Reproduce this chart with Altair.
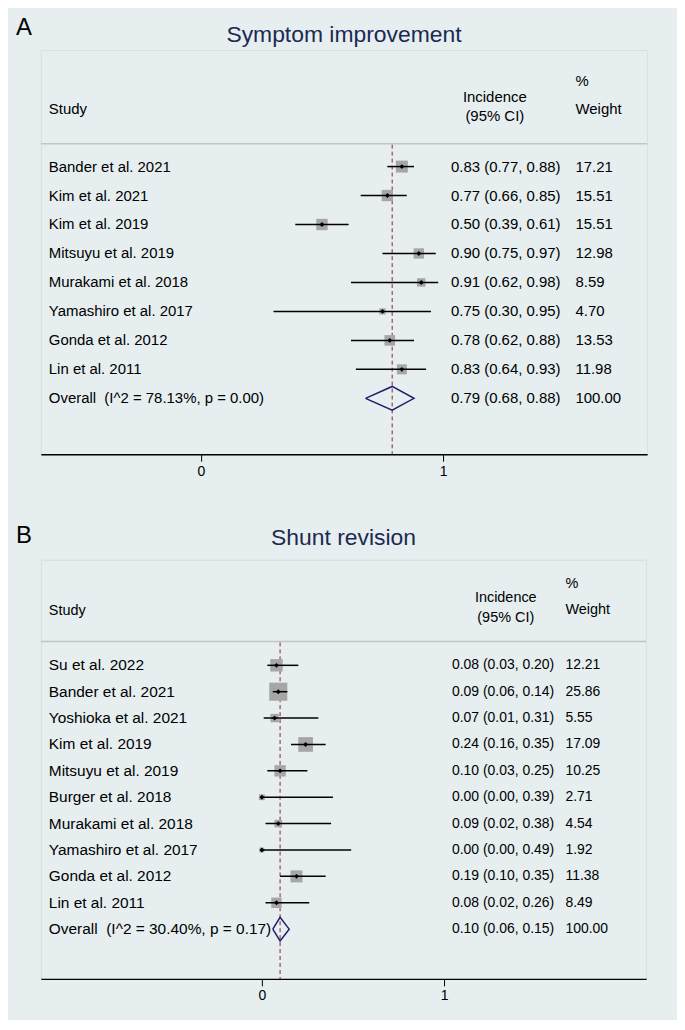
import altair as alt
import pandas as pd

FONT = "Liberation Sans"
BG = "#e6eef0"
NAVY = "#1a2a50"
DIAMOND = "#1c1f6e"
DASH = "#8e2335"
BOX = "#a6a6a6"

# ---------------- Panel A: Symptom improvement ----------------
a_study = ["Bander et al. 2021", "Kim et al. 2021", "Kim et al. 2019", "Mitsuyu et al. 2019",
           "Murakami et al. 2018", "Yamashiro et al. 2017", "Gonda et al. 2012", "Lin et al. 2011"]
a_es = [0.83, 0.77, 0.50, 0.90, 0.91, 0.75, 0.78, 0.83]
a_lo = [0.77, 0.66, 0.39, 0.75, 0.62, 0.30, 0.62, 0.64]
a_hi = [0.88, 0.85, 0.61, 0.97, 0.98, 0.95, 0.88, 0.93]
a_wt = [17.21, 15.51, 15.51, 12.98, 8.59, 4.70, 13.53, 11.98]
a_overall = [0.79, 0.68, 0.88]
a_het = "I^2 = 78.13%, p = 0.00"

# ---------------- Panel B: Shunt revision ----------------
b_study = ["Su et al. 2022", "Bander et al. 2021", "Yoshioka et al. 2021", "Kim et al. 2019",
           "Mitsuyu et al. 2019", "Burger et al. 2018", "Murakami et al. 2018",
           "Yamashiro et al. 2017", "Gonda et al. 2012", "Lin et al. 2011"]
b_es = [0.08, 0.09, 0.07, 0.24, 0.10, 0.00, 0.09, 0.00, 0.19, 0.08]
b_lo = [0.03, 0.06, 0.01, 0.16, 0.03, 0.00, 0.02, 0.00, 0.10, 0.02]
b_hi = [0.20, 0.14, 0.31, 0.35, 0.25, 0.39, 0.38, 0.49, 0.35, 0.26]
b_wt = [12.21, 25.86, 5.55, 17.09, 10.25, 2.71, 4.54, 1.92, 11.38, 8.49]
b_overall = [0.10, 0.06, 0.15]
b_het = "I^2 = 30.40%, p = 0.17"


def panel(letter, title, study, es, lo, hi, wt, ov, het, L):
    W, H = L["W"], L["H"]
    fs, fsl, fsh = L["fs"], L["fsl"], L["fsh"]
    n = len(study)
    df = pd.DataFrame({"study": study, "es": es, "lo": lo, "hi": hi, "wt": wt,
                       "row": list(range(n))})
    lab = pd.DataFrame({
        "study": study + ["Overall\u00a0 (" + het + ")"],
        "ci": [f"{e:.2f} ({l:.2f}, {h:.2f})" for e, l, h in zip(es, lo, hi)]
              + [f"{ov[0]:.2f} ({ov[1]:.2f}, {ov[2]:.2f})"],
        "wtxt": [f"{w:.2f}" for w in wt] + ["100.00"],
        "row": list(range(n + 1)),
    })
    hh = L["dh"]
    dia = pd.DataFrame({"x": [ov[1], ov[0], ov[2], ov[0], ov[1]],
                        "y": [n, n - hh, n, n + hh, n],
                        "o": [0, 1, 2, 3, 4]})
    ovdf = pd.DataFrame({"es": [ov[0]]})
    one = pd.DataFrame({"k": [0]})

    xs = alt.Scale(domain=L["xdom"], nice=False, zero=False)
    ys = alt.Scale(domain=L["ydom"], nice=False, zero=False, reverse=True)
    ax = alt.Axis(values=[0, 1], format="d", title=None, grid=False, domainColor="black",
                  domainWidth=1.3, tickColor="black", tickSize=7, tickWidth=1,
                  labelFontSize=14, labelColor="black", labelFont=FONT, labelPadding=3)

    def txt(t, x, y, align="left", size=fsh, color="black"):
        return alt.Chart(one).mark_text(text=t, align=align, baseline="middle", fontSize=size,
                                        font=FONT, color=color).encode(
            x=alt.value(x), y=alt.value(y))

    hdr = L["hdr"]
    layers = [
        alt.Chart(one).mark_rule(color="#c4c4c4", strokeWidth=1.5).encode(
            x=alt.value(0), x2=alt.value(W), y=alt.value(hdr["line"])),
        alt.Chart(ovdf).mark_rule(color=DASH, strokeDash=[4, 3], strokeWidth=1).encode(
            x=alt.X("es:Q", scale=xs, axis=ax), y=alt.value(hdr["line"] + 1), y2=alt.value(H)),
        alt.Chart(df).mark_square(color=BOX, opacity=1).encode(
            x=alt.X("es:Q", scale=xs, axis=ax),
            y=alt.Y("row:Q", scale=ys, axis=None),
            size=alt.Size("wt:Q", scale=alt.Scale(type="linear", domain=[0, max(wt)],
                                                  range=[0, L["boxmax"]]), legend=None)),
        alt.Chart(df).mark_rule(color="black", strokeWidth=1.5).encode(
            x=alt.X("lo:Q", scale=xs, axis=ax), x2="hi:Q",
            y=alt.Y("row:Q", scale=ys, axis=None)),
        alt.Chart(df).mark_point(shape="diamond", filled=True, color="black", size=24, opacity=1).encode(
            x=alt.X("es:Q", scale=xs, axis=ax),
            y=alt.Y("row:Q", scale=ys, axis=None)),
        alt.Chart(dia).mark_line(color=DIAMOND, strokeWidth=1.5).encode(
            x=alt.X("x:Q", scale=xs, axis=ax),
            y=alt.Y("y:Q", scale=ys, axis=None),
            order="o:Q"),
        alt.Chart(lab).mark_text(align="left", baseline="middle", fontSize=fsl, font=FONT,
                                 color="black").encode(
            x=alt.value(L["cx"][0]), y=alt.Y("row:Q", scale=ys, axis=None), text="study:N"),
        alt.Chart(lab).mark_text(align="left", baseline="middle", fontSize=fs, font=FONT,
                                 color="black").encode(
            x=alt.value(L["cx"][1]), y=alt.Y("row:Q", scale=ys, axis=None), text="ci:N"),
        alt.Chart(lab).mark_text(align="left", baseline="middle", fontSize=fs, font=FONT,
                                 color="black").encode(
            x=alt.value(L["cx"][2]), y=alt.Y("row:Q", scale=ys, axis=None), text="wtxt:N"),
        txt("Study", L["cx"][0], hdr["study"]),
        txt("Incidence", L["hc"], hdr["inc"], align="center"),
        txt("(95% CI)", L["hc"], hdr["ci"], align="center"),
        txt("%", L["cx"][2], hdr["pct"]),
        txt("Weight", L["cx"][2], hdr["wt"]),
        txt(title, W / 2, L["ty"], align="center", size=23, color=NAVY),
        txt(letter, -17, L["ly"], align="center", size=24),
    ]
    return alt.layer(*layers).properties(width=W, height=H)


LA = dict(W=609, H=406, fs=15, fsl=15, fsh=15, xdom=[-0.6605, 1.8426], ydom=[-4.021, 9.931],
          dh=0.41, boxmax=144, cx=[8, 412, 537], hc=456, ty=-15, ly=-22,
          hdr=dict(line=94, study=59, inc=47, ci=66, pct=31, wt=59))
LB = dict(W=608, H=421, fs=14, fsl=15.5, fsh=14.5, xdom=[-1.213, 2.109], ydom=[-4.0, 11.887],
          dh=0.45, boxmax=330, cx=[8, 413, 527], hc=467, ty=-22, ly=-24,
          hdr=dict(line=82, study=51, inc=38, ci=58, pct=24, wt=50))

pa = panel("A", "Symptom improvement", a_study, a_es, a_lo, a_hi, a_wt, a_overall, a_het, LA)
pb = panel("B", "Shunt revision", b_study, b_es, b_lo, b_hi, b_wt, b_overall, b_het, LB)

chart = alt.vconcat(pa, pb, spacing=106, bounds="flush").resolve_scale(
    size="independent", x="independent", y="independent"
).properties(
    background=BG,
    padding={"left": 7, "top": 5, "right": 28, "bottom": 14},
).configure_view(fill="white", strokeWidth=0).configure(font=FONT)

chart.save("out.html", embed_options={"renderer": "svg", "actions": False})
